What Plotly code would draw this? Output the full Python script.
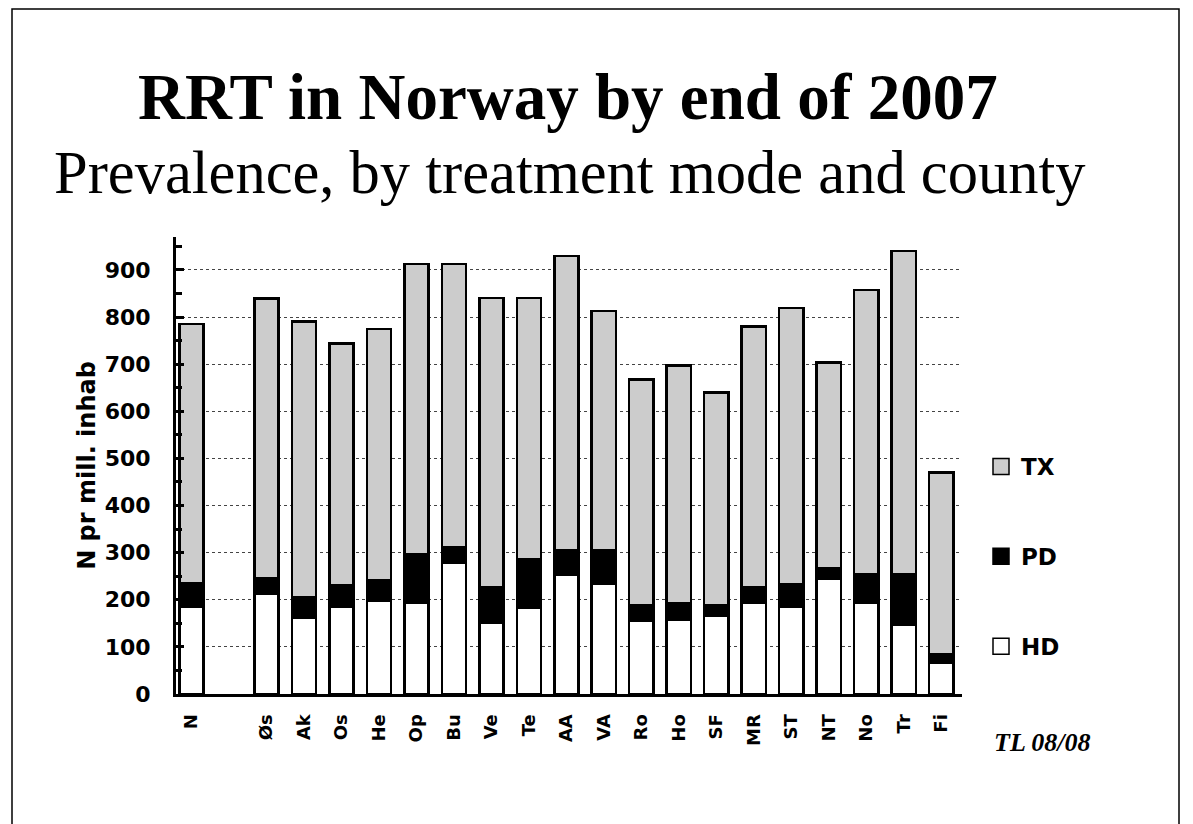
import plotly.graph_objects as go

# Data (N pr mill. inhabitants, end of 2007)
categories = ["N", " ", "Øs", "Ak", "Os", "He", "Op", "Bu", "Ve", "Te", "AA",
              "VA", "Ro", "Ho", "SF", "MR", "ST", "NT", "No", "Tr", "Fi"]
hd_values = [185, None, 213, 162, 185, 198, 193, 279, 152, 183, 254,
             234, 155, 157, 167, 193, 185, 244, 193, 147, 66]
pd_values = [50, None, 33, 43, 45, 43, 104, 33, 74, 102, 52,
             72, 34, 35, 22, 33, 48, 22, 62, 108, 19]
tx_values = [550, None, 593, 586, 514, 534, 616, 601, 615, 556, 624,
             507, 479, 505, 451, 554, 586, 438, 602, 685, 385]
series_names = ["HD", "PD", "TX"]
series_colors = ["#ffffff", "#000000", "#cccccc"]
legend_ranks = [3, 2, 1]
y_ticks = [0, 100, 200, 300, 400, 500, 600, 700, 800, 900]

W, H = 1193, 824
OFF = 8  # page body offset
ML, MR, MT, MB = 168, 239, 229, 138
PW = W - ML - MR
PH = H - MT - MB

SANS = "DejaVu Sans, Verdana, sans-serif"
SERIF = "Liberation Serif, Times New Roman, serif"


def px_x(px):
    return (px - OFF - ML) / PW


def px_y(py):
    return (H - MB - (py - OFF)) / PH


fig = go.Figure()
for name, vals, col, rk in zip(series_names, [hd_values, pd_values, tx_values],
                               series_colors, legend_ranks):
    fig.add_trace(go.Bar(
        x=categories, y=vals, name=name, width=0.65,
        marker=dict(color=col, line=dict(color="#000000", width=2.5)),
        showlegend=False,
    ))
    # legend-only marker for a larger square key
    fig.add_trace(go.Scatter(
        x=[None], y=[None], mode="markers", name=name, legendgroup=name,
        legendrank=rk,
        marker=dict(symbol="square", size=17, color=col,
                    line=dict(color="#000000", width=1.5)),
    ))

fig.update_layout(
    width=W, height=H,
    margin=dict(l=ML, r=MR, t=MT, b=MB),
    barmode="stack",
    paper_bgcolor="white", plot_bgcolor="white",
    font=dict(family=SANS, color="black"),
    legend=dict(
        x=px_x(981), xanchor="left", y=px_y(445), yanchor="top",
        traceorder="grouped", tracegroupgap=57,
        font=dict(size=23, family=SANS, color="black", weight="bold"),
        bgcolor="rgba(0,0,0,0)",
    ),
    xaxis=dict(
        type="category", categoryorder="array", categoryarray=categories,
        range=[-0.413, 20.55],
        showline=True, linecolor="black", linewidth=3,
        showgrid=False, ticks="", tickangle=-90,
        tickfont=dict(size=18, family=SANS, color="black", weight="bold"),
        ticklabelstandoff=10,
    ),
    yaxis=dict(
        range=[0, 970],
        tickvals=y_ticks,
        showline=True, linecolor="black", linewidth=3,
        ticks="inside", ticklen=8, tickwidth=3, tickcolor="black",
        minor=dict(dtick=50, ticks="inside", ticklen=6, tickwidth=3,
                   tickcolor="black", showgrid=False),
        showgrid=True, gridcolor="#444444", gridwidth=1, griddash="dot",
        tickfont=dict(size=22, family=SANS, color="black", weight="bold"),
        ticklabelstandoff=18,
        title=dict(text="N pr mill. inhab", standoff=3,
                   font=dict(size=24, family=SANS, color="black", weight="bold")),
        zeroline=False,
    ),
)

fig.add_annotation(
    text="<b>RRT in Norway by end of 2007</b>", xref="paper", yref="paper",
    x=px_x(568), y=px_y(97), xanchor="center", yanchor="middle", showarrow=False,
    font=dict(family=SERIF, size=65, color="black"),
)
fig.add_annotation(
    text="Prevalence, by treatment mode and county", xref="paper", yref="paper",
    x=px_x(570), y=px_y(173), xanchor="center", yanchor="middle", showarrow=False,
    font=dict(family=SERIF, size=60.5, color="black"),
)
fig.add_annotation(
    text="<b><i>TL 08/08</i></b>", xref="paper", yref="paper",
    x=px_x(1042), y=px_y(742), xanchor="center", yanchor="middle", showarrow=False,
    font=dict(family=SERIF, size=26, color="black"),
)

# slide frame (left, top, right edges)
x0, x1 = px_x(12), px_x(1179)
y0, y1 = px_y(840), px_y(9)
fig.add_shape(type="path", xref="paper", yref="paper",
              path=f"M {x0},{y0} L {x0},{y1} L {x1},{y1} L {x1},{y0}",
              line=dict(color="black", width=1.5))

fig.write_html("out.html")
